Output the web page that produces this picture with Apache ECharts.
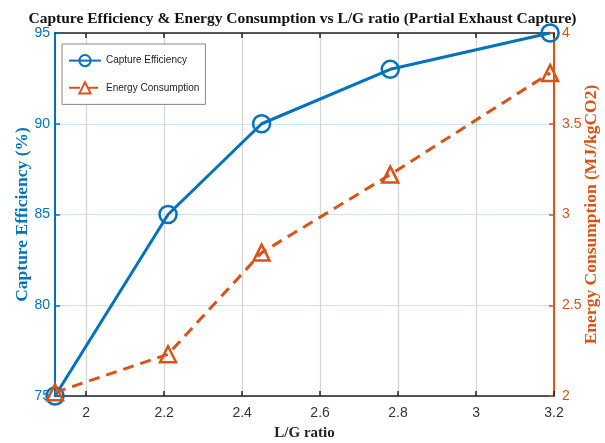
<!DOCTYPE html>
<html><head><meta charset="utf-8">
<script src="https://cdn.jsdelivr.net/npm/echarts@6/dist/echarts.min.js"></script>
<style>html,body{margin:0;padding:0;background:#fff}#c{width:605px;height:443px}</style>
</head><body><div id="c"></div>
<script>
const lgRatio = [1.92, 2.21, 2.45, 2.78, 3.19];
const captureEff = [75, 85, 90, 93, 95];
const energyCons = [2.02, 2.23, 2.79, 3.22, 3.78];
const xTicks = [2, 2.2, 2.4, 2.6, 2.8, 3, 3.2];
const BLUE = '#0072BD', ORANGE = '#D95319';
const chart = echarts.init(document.getElementById('c'));
chart.setOption({
  backgroundColor: '#fff',
  animation: false,
  title: {
    text: 'Capture Efficiency & Energy Consumption vs L/G ratio (Partial Exhaust Capture)',
    left: 'center', top: 6,
    textStyle: {fontFamily: 'Liberation Serif', fontWeight: 'bold', fontSize: 15.5, color: '#111'}
  },
  legend: {
    orient: 'vertical', left: 62, top: 44,
    padding: [10, 6, 10, 6], itemGap: 14, itemWidth: 32, itemHeight: 14,
    borderColor: '#888', borderWidth: 1, backgroundColor: '#fff',
    textStyle: {fontFamily: 'Liberation Sans', fontSize: 10, color: '#222'},
    data: ['Capture Efficiency', 'Energy Consumption']
  },
  grid: {left: 55, right: 51, top: 33, bottom: 47, containLabel: false, outerBoundsMode: 'none'},
  xAxis: [{
    type: 'value', min: 1.92, max: 3.2, position: 'bottom',
    name: 'L/G ratio', nameLocation: 'middle', nameGap: 30, nameMoveOverlap: false,
    nameTextStyle: {fontFamily: 'Liberation Serif', fontWeight: 'bold', fontSize: 15, color: '#222'},
    axisLine: {onZero: false, lineStyle: {color: '#222', width: 1.5}},
    axisTick: {inside: true, length: 5, customValues: xTicks, lineStyle: {color: '#222', width: 1.5}},
    axisLabel: {customValues: xTicks, margin: 10, fontFamily: 'Liberation Sans', fontSize: 14, color: '#333'},
    splitLine: {show: true, lineStyle: {color: '#d4d4d4', width: 1.2}}
  }, {
    type: 'value', min: 1.92, max: 3.2, position: 'top',
    axisLine: {show: true, onZero: false, lineStyle: {color: '#222', width: 1.5}},
    axisTick: {inside: true, length: 5, customValues: xTicks, lineStyle: {color: '#222', width: 1.5}},
    axisLabel: {show: false},
    splitLine: {show: false}
  }],
  yAxis: [{
    type: 'value', min: 75, max: 95, interval: 5, position: 'left',
    name: 'Capture Efficiency (%)', nameLocation: 'middle', nameGap: 24, nameRotate: 90, nameMoveOverlap: false,
    nameTextStyle: {fontFamily: 'Liberation Serif', fontWeight: 'bold', fontSize: 17.5, color: BLUE},
    axisLine: {show: true, lineStyle: {color: BLUE, width: 2}},
    axisTick: {show: true, inside: true, length: 5, lineStyle: {color: BLUE, width: 1.5}},
    axisLabel: {margin: 5, fontFamily: 'Liberation Sans', fontSize: 14, color: BLUE},
    splitLine: {show: true, lineStyle: {color: '#cfe3f2', width: 1.2}}
  }, {
    type: 'value', min: 2, max: 4, interval: 0.5, position: 'right',
    name: 'Energy Consumption (MJ/kgCO2)', nameLocation: 'middle', nameGap: 28, nameRotate: 90, nameMoveOverlap: false,
    nameTextStyle: {fontFamily: 'Liberation Serif', fontWeight: 'bold', fontSize: 17.5, color: ORANGE},
    axisLine: {show: true, lineStyle: {color: ORANGE, width: 2}},
    axisTick: {show: true, inside: true, length: 5, lineStyle: {color: ORANGE, width: 1.5}},
    axisLabel: {margin: 8, fontFamily: 'Liberation Sans', fontSize: 14, color: ORANGE},
    splitLine: {show: false}
  }],
  series: [{
    name: 'Capture Efficiency', type: 'line', xAxisIndex: 0, yAxisIndex: 0,
    data: lgRatio.map((x, i) => [x, captureEff[i]]),
    symbol: 'circle', symbolSize: 17, showAllSymbol: true,
    lineStyle: {color: BLUE, width: 3},
    itemStyle: {color: 'rgba(255,255,255,0)', borderColor: BLUE, borderWidth: 2.5},
    color: BLUE, z: 3, clip: false
  }, {
    name: 'Energy Consumption', type: 'line', xAxisIndex: 0, yAxisIndex: 1,
    data: lgRatio.map((x, i) => [x, energyCons[i]]),
    symbol: 'triangle', symbolSize: 16, showAllSymbol: true,
    lineStyle: {color: ORANGE, width: 3, type: [11, 7]},
    itemStyle: {color: 'rgba(255,255,255,0)', borderColor: ORANGE, borderWidth: 2.5},
    color: ORANGE, z: 4, clip: false
  }]
});
</script></body></html>
